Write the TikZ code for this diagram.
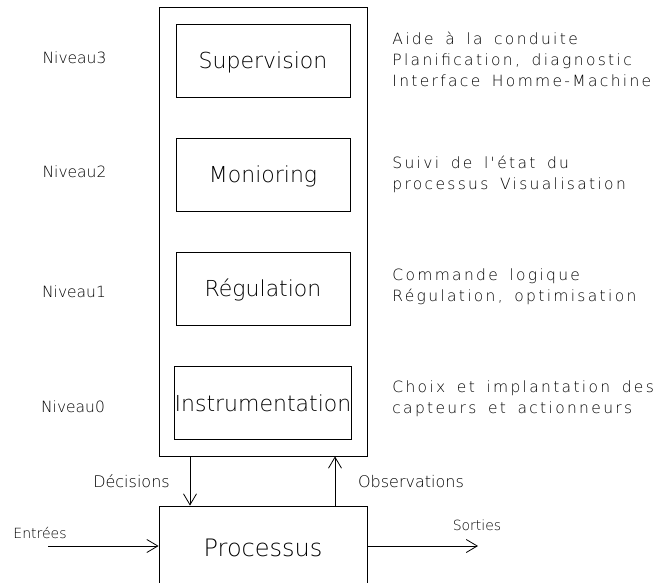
\documentclass[tikz,border=0pt]{standalone}
\usepackage{fontspec}
\setmainfont{DejaVu Sans ExtraLight}
\newfontfamily\widefont[LetterSpace=15, WordSpace=1.6]{DejaVu Sans ExtraLight}
\usetikzlibrary{arrows.meta}

\begin{document}
\begin{tikzpicture}[x=1pt, y=-1pt, line width=0.8pt,
	box/.style={draw, minimum width=174pt, minimum height=73pt, inner sep=0pt, text height=16pt, text depth=0pt, font=\fontsize{22}{24}\selectfont},
	level/.style={inner sep=0pt, text height=11.3pt, text depth=0pt, font=\fontsize{15.5}{18}\selectfont},
	flow/.style={inner sep=0pt, text height=10.2pt, text depth=0pt, font=\fontsize{14}{16}\selectfont},
	note/.style={anchor=west, align=left, inner sep=0pt, font=\widefont\fontsize{15.5}{21}\selectfont},
	arr/.style={-{Straight Barb[length=11pt, width=13pt]}}]
	\path[use as bounding box, clip] (0, 0) rectangle (656, 583);
	\node[draw, minimum width=208pt, minimum height=449pt] (ctrl) at (263, 231.5) {};
	\node[box] (sup) at (263, 60.5) {Supervision};
	\node[box] (mon) at (263, 174.5) {Monioring};
	\node[box] (reg) at (263, 288.5) {Régulation};
	\node[box] (ins) at (263, 403) {Instrumentation};
	\node[draw, minimum width=208pt, minimum height=84pt, inner sep=0pt, text height=17.5pt, text depth=0pt, font=\fontsize{24}{26}\selectfont] (proc) at (263, 548) {Processus};
	\node[level] (niv3) at (74.5, 58) {Niveau3};
	\node[level] (niv2) at (74.5, 172) {Niveau2};
	\node[level] (niv1) at (74, 292) {Niveau1};
	\node[level] (niv0) at (73, 407) {Niveau0};
	\node[note] (txt3) at (392, 59) {Aide à la conduite\\Planification, diagnostic\\Interface Homme-Machine};
	\node[note] (txt2) at (392, 174) {Suivi de l'état du\\processus Visualisation};
	\node[note] (txt1) at (392, 287) {Commande logique\\Régulation, optimisation};
	\node[note] (txt0) at (392, 399) {Choix et implantation des\\capteurs et actionneurs};
	\draw[arr] ([xshift=-73pt]ctrl.south) -- ([xshift=-73pt]proc.north);
	\draw[arr] ([xshift=72pt]proc.north) -- ([xshift=72pt]ctrl.south);
	\node[level, text height=11.7pt, font=\fontsize{16}{18}\selectfont] (dec) at (131.5, 482) {Décisions};
	\node[level, text height=11.7pt, font=\fontsize{16}{18}\selectfont] (obs) at (411, 482) {Observations};
	\coordinate (in) at (48, 546);
	\coordinate (out) at (478, 546);
	\draw[arr] (in) -- (in -| proc.west);
	\draw[arr] (out -| proc.east) -- (out);
	\node[flow] (ent) at (40, 533) {Entrées};
	\node[flow] (sor) at (477, 525) {Sorties};
\end{tikzpicture}
\end{document}
